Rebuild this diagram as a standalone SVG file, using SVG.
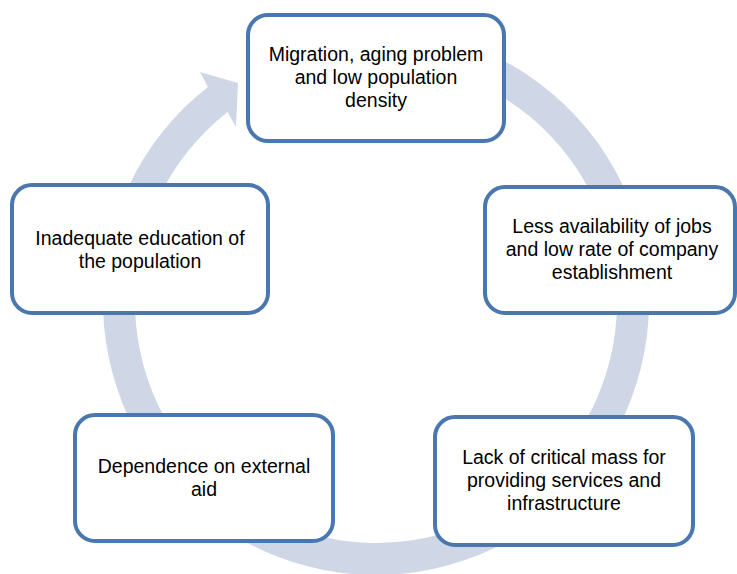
<svg xmlns="http://www.w3.org/2000/svg" width="737" height="574" viewBox="0 0 737 574">
<style>
.box{fill:#ffffff;stroke:#4A77AE;stroke-width:4}
.t{font-family:"Liberation Sans",Arial,sans-serif;font-size:19.5px;fill:#000;text-anchor:middle}
.cyc{fill:#CFD7E6;stroke:none}
</style>
<rect width="737" height="574" fill="#ffffff"/>
<g id="connectors">
<path class="cyc" d="M376,29 A273,273 0 1 1 207.9,86.9 L200,72 L238,83 L236,127 L227.6,112.1 A241,241 0 1 0 376,61 Z"/>
</g>
<g id="node1">
<rect class="box" x="248" y="15" width="256" height="126" rx="20"/>
<text class="t" x="376" y="61">Migration, aging problem<tspan x="376" dy="23">and low population</tspan><tspan x="376" dy="23">density</tspan></text>
</g>
<g id="node2">
<rect class="box" x="485" y="187" width="250" height="126" rx="20"/>
<text class="t" x="612" y="233">Less availability of jobs<tspan x="612" dy="23">and low rate of company</tspan><tspan x="612" dy="23">establishment</tspan></text>
</g>
<g id="node3">
<rect class="box" x="435" y="417" width="258" height="128" rx="20"/>
<text class="t" x="564" y="464">Lack of critical mass for<tspan x="564" dy="23">providing services and</tspan><tspan x="564" dy="23">infrastructure</tspan></text>
</g>
<g id="node4">
<rect class="box" x="75" y="415" width="258" height="126" rx="20"/>
<text class="t" x="204" y="473">Dependence on external<tspan x="204" dy="23">aid</tspan></text>
</g>
<g id="node5">
<rect class="box" x="12" y="185" width="256" height="128" rx="20"/>
<text class="t" x="140" y="245">Inadequate education of<tspan x="140" dy="23">the population</tspan></text>
</g>
</svg>
